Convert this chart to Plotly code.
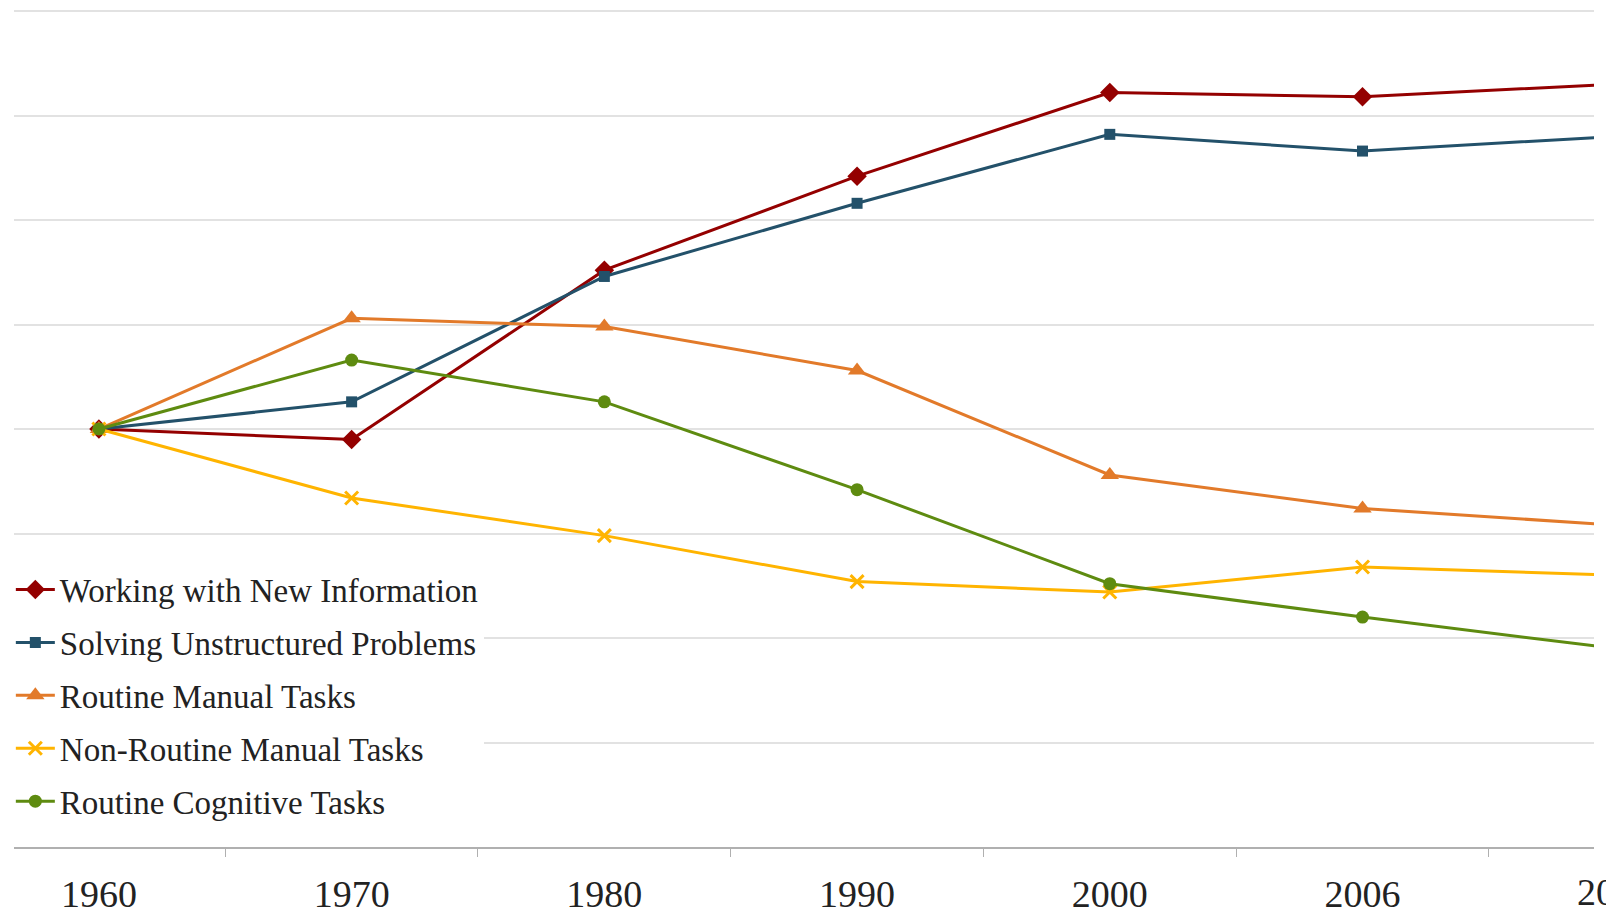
import plotly.graph_objects as go

years = ["1960", "1970", "1980", "1990", "2000", "2006", "2009"]

working_new_info = [50.0, 49.5, 57.6, 62.1, 66.1, 65.9, 66.5]
solving_unstructured = [50.0, 51.3, 57.3, 60.8, 64.1, 63.3, 64.0]
routine_manual = [50.0, 55.3, 54.9, 52.8, 47.8, 46.2, 45.4]
nonroutine_manual = [50.0, 46.7, 44.9, 42.7, 42.2, 43.4, 43.0]
routine_cognitive = [50.0, 53.3, 51.3, 47.1, 42.6, 41.0, 39.5]

series = [
    ("Working with New Information", working_new_info, "#940000", "diamond", 15),
    ("Solving Unstructured Problems", solving_unstructured, "#23516a", "square", 11),
    ("Routine Manual Tasks", routine_manual, "#e27a2a", "triangle-up", 16),
    ("Non-Routine Manual Tasks", nonroutine_manual, "#ffb400", "x-thin", 13),
    ("Routine Cognitive Tasks", routine_cognitive, "#5e8b10", "circle", 13),
]

FONT = "Liberation Serif"

fig = go.Figure()
for i, (name, vals, color, sym, size) in enumerate(series):
    marker = dict(symbol=sym, size=size, color=color)
    if sym == "x-thin":
        marker["line"] = dict(color=color, width=3)
    fig.add_trace(go.Scatter(
        x=years, y=vals, name=name, mode="lines+markers",
        line=dict(color=color, width=3), marker=marker,
        legendgroup=f"g{i}",
    ))

x_lo, x_hi = -0.336, 5.916

fig.update_layout(
    width=1606, height=914,
    margin=dict(l=14, r=12, t=10, b=67, autoexpand=False),
    paper_bgcolor="white", plot_bgcolor="white",
    font=dict(family=FONT, color="#222222"),
    showlegend=True,
    legend=dict(
        x=-0.002, y=0.341, xanchor="left", yanchor="top",
        bgcolor="white", borderwidth=0,
        font=dict(family=FONT, size=33, color="#222222"),
        itemwidth=39, tracegroupgap=7,
    ),
    xaxis=dict(
        type="category", range=[x_lo, x_hi], automargin=False,
        showgrid=False, zeroline=False,
        showline=True, linecolor="#b0b0b0", linewidth=2,
        ticks="outside", tickson="boundaries", ticklen=8, tickcolor="#b0b0b0", tickwidth=1,
        tickfont=dict(family=FONT, size=38, color="#222222"),
        ticklabelstandoff=12,
    ),
    yaxis=dict(
        range=[30, 70.05], dtick=5, tick0=30, automargin=False,
        showgrid=True, gridcolor="#e2e2e2", gridwidth=2,
        zeroline=False, showticklabels=False, showline=False, ticks="",
    ),
)

# last category label, partially outside the visible area
fig.add_annotation(
    xref="paper", yref="paper",
    x=(len(years) - 1 - x_lo) / (x_hi - x_lo), y=0,
    text=years[-1], showarrow=False,
    xanchor="center", yanchor="top", yshift=-22,
    font=dict(family=FONT, size=38, color="#222222"),
)

fig.write_html("out.html", config={"displayModeBar": False},
               post_script="document.body.style.margin='0';")
